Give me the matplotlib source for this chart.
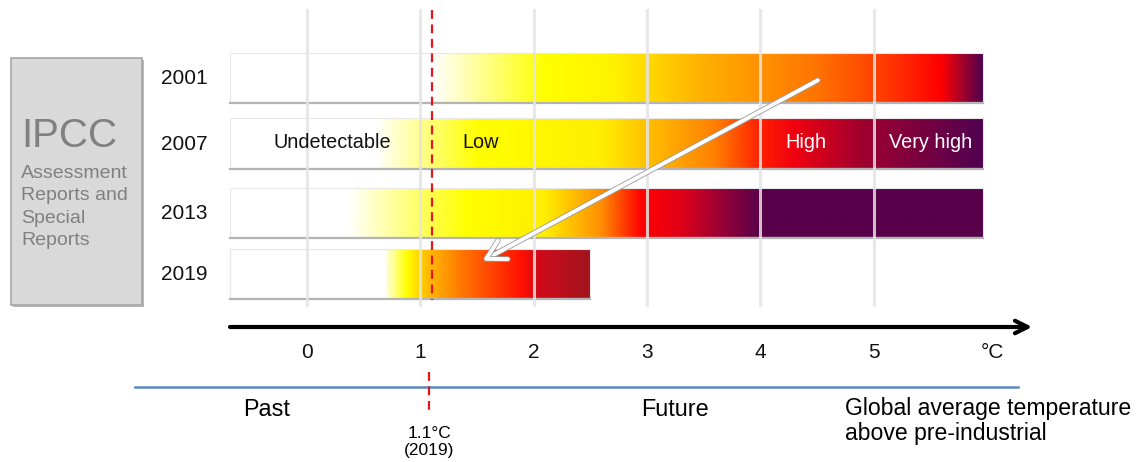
import numpy as np
import matplotlib
matplotlib.use("Agg")
import matplotlib.pyplot as plt
import matplotlib.patheffects as pe
from matplotlib.colors import LinearSegmentedColormap
from matplotlib.patches import Rectangle, FancyArrowPatch

plt.rcParams["font.family"] = ["Liberation Sans", "DejaVu Sans"]

# rows of the burning-embers chart
years = ["2001", "2007", "2013", "2019"]
row_top = [53, 118, 188, 249]
row_bottom = [102, 168, 237, 298]
bar_start = [-0.68, -0.68, -0.68, 0.7]
bar_end = [5.97, 5.97, 5.97, 2.5]

# gradient stops (temperature in degC, colour) per report
stops_2001 = [(-0.68, "#ffffff"), (1.1, "#ffffff"), (2.1, "#ffff00"), (2.7, "#fff200"),
              (3.5, "#ffb000"), (4.5, "#ff7400"), (5.2, "#ff3000"), (5.6, "#ff0000"),
              (5.97, "#500050")]
stops_2007 = [(-0.68, "#ffffff"), (0.6, "#ffffff"), (1.5, "#ffff00"), (2.6, "#ffee00"),
              (3.0, "#ffc000"), (3.6, "#ff8000"), (4.0, "#ff2000"), (4.3, "#f00010"),
              (4.9, "#a00030"), (5.97, "#500050")]
stops_2013 = [(-0.68, "#ffffff"), (0.35, "#ffffff"), (1.4, "#ffff00"), (2.1, "#ffee00"),
              (2.6, "#ff8c00"), (2.95, "#ff0000"), (3.3, "#e00018"), (3.7, "#900038"),
              (4.0, "#58004a"), (5.97, "#58004a")]
stops_2019 = [(0.7, "#ffffe0"), (0.88, "#ffff00"), (1.05, "#ffc000"), (1.4, "#ff7000"),
              (1.9, "#ff1000"), (2.05, "#d00a1a"), (2.5, "#a0141e")]
row_stops = [stops_2001, stops_2007, stops_2013, stops_2019]

ticks = [0, 1, 2, 3, 4, 5]
current_warming = 1.1

# risk level labels on the 2007 row
level_names = ["Undetectable", "Low", "High", "Very high"]
level_x = [0.22, 1.53, 4.4, 5.5]
level_colors = ["#111111", "#111111", "white", "white"]

# pixel -> degree mapping of the original figure
x_zero = 307
px_per_deg = 113.3
W, H = 1137, 462

fig = plt.figure(figsize=(W / 100, H / 100), dpi=100)
ax = fig.add_axes([0, 0, 1, 1])
ax.set_xlim((0 - x_zero) / px_per_deg, (W - x_zero) / px_per_deg)
ax.set_ylim(H, 0)
ax.axis("off")

grad = np.linspace(0, 1, 512).reshape(1, -1)
for i, stops in enumerate(row_stops):
    x0, x1 = bar_start[i], bar_end[i]
    cmap = LinearSegmentedColormap.from_list(
        years[i], [((t - x0) / (x1 - x0), c) for t, c in stops])
    if x0 > -0.68:
        ax.add_patch(Rectangle((-0.68, row_top[i]), x0 + 0.68, row_bottom[i] - row_top[i],
                               facecolor="white", edgecolor="#e4e4e4", lw=0.8, zorder=1))
    ax.imshow(grad, cmap=cmap, aspect="auto", interpolation="bicubic",
              extent=(x0, x1, row_bottom[i], row_top[i]), zorder=2)
    ax.add_patch(Rectangle((-0.68, row_top[i]), x1 + 0.68, row_bottom[i] - row_top[i],
                           facecolor="none", edgecolor="#e8e8e8", lw=0.8, zorder=2.5))
    ax.plot([-0.68, x1], [row_bottom[i] + 0.5] * 2, color="#b4b4b4", lw=1.6, zorder=2.6)
    ax.text(-1.08, (row_top[i] + row_bottom[i]) / 2 + 1, years[i], ha="center",
            va="center", fontsize=15, color="#111111")

# vertical grid lines drawn above the bars
for t in ticks:
    ax.plot([t, t], [10, 305], color="#e4e4e4", lw=2.2, alpha=0.85, zorder=3)

for name, x, c in zip(level_names, level_x, level_colors):
    ax.text(x, 143, name, ha="center", va="center", fontsize=14.3, color=c, zorder=4)

# current warming marker
ax.plot([current_warming, current_warming], [10, 300], color="#e8141c", lw=1.6,
        ls=(0, (4, 2.5)), zorder=5)
ax.plot([current_warming - 0.02] * 2, [372, 412], color="#e8141c", lw=1.6,
        ls=(0, (4, 2.5)), zorder=5)

# white arrow across the embers
arr = FancyArrowPatch((4.53, 79), (1.53, 262), arrowstyle="->,head_length=9,head_width=5",
                      color="white", lw=2.8, mutation_scale=1.5, zorder=6,
                      path_effects=[pe.Stroke(linewidth=4, foreground="#9a9a9a"), pe.Normal()])
ax.add_patch(arr)

# temperature axis
ax.annotate("", xy=(6.4, 327), xytext=(-0.68, 327),
            arrowprops=dict(arrowstyle="->,head_length=0.9,head_width=0.45",
                            color="black", lw=3, shrinkA=0, shrinkB=0))
for t in ticks:
    ax.text(t, 352, str(t), ha="center", va="center", fontsize=15, color="#111111")
ax.text(6.05, 352, "°C", ha="center", va="center", fontsize=15, color="#111111")

# past / future timeline
ax.plot([(135 - x_zero) / px_per_deg, (1018 - x_zero) / px_per_deg], [387, 387],
        color="#5b88c0", lw=1.8)
ax.text((243 - x_zero) / px_per_deg, 410, "Past", ha="left", va="center", fontsize=16.8)
ax.text((641 - x_zero) / px_per_deg, 410, "Future", ha="left", va="center", fontsize=16.8)
ax.text((845 - x_zero) / px_per_deg, 421, "Global average temperature\nabove pre-industrial",
        ha="left", va="center", fontsize=16.6, linespacing=1.12)
ax.text(current_warming - 0.02, 442, "1.1°C\n(2019)", ha="center", va="center",
        fontsize=12.5, linespacing=1.15)

# IPCC box
bx0, bx1 = (11 - x_zero) / px_per_deg, (142 - x_zero) / px_per_deg
ax.add_patch(Rectangle((bx0 + 0.02, 60), bx1 - bx0, 247, facecolor="#b8b8b8",
                       edgecolor="none", zorder=0.5))
ax.add_patch(Rectangle((bx0, 58), bx1 - bx0, 247, facecolor="#d9d9d9",
                       edgecolor="#a6a6a6", lw=1.2, zorder=1))
ax.text(bx0 + 0.09, 136, "IPCC", ha="left", va="center", fontsize=29, color="#808080",
        zorder=2)
ax.text(bx0 + 0.09, 207, "Assessment\nReports and\nSpecial\nReports", ha="left",
        va="center", fontsize=14, color="#808080", linespacing=1.4, zorder=2)

fig.savefig("out.png", dpi=100)
